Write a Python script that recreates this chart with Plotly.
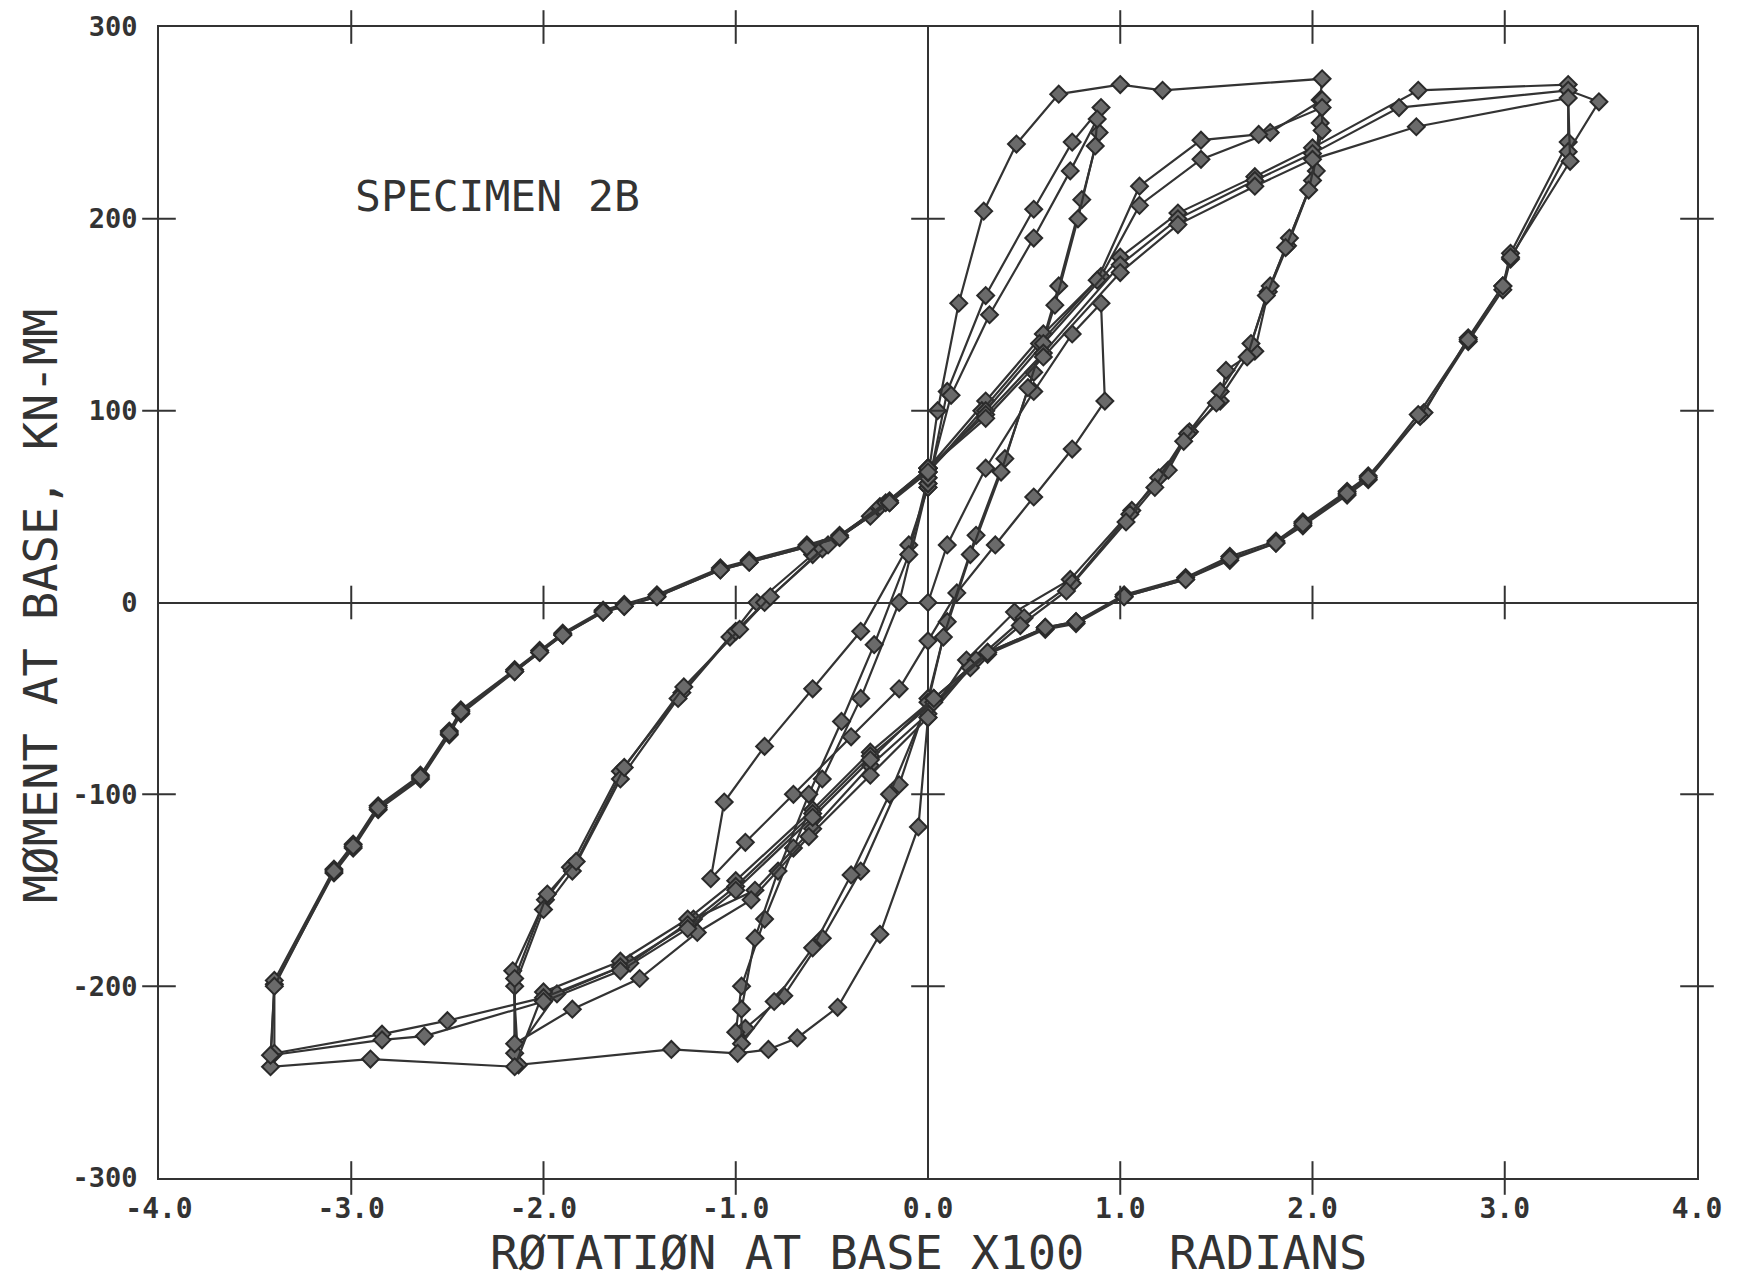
import plotly.graph_objects as go

# ---------------- data (rotation x100 rad, moment kN-mm) ----------------
tiny_rot = [0.0, 0.1, 0.3, 0.55, 0.75, 0.90, 0.92, 0.75, 0.55, 0.35, 0.15, 0.0,
            -0.15, -0.4, -0.7, -0.95, -1.13, -1.06, -0.85, -0.6, -0.35, -0.1, 0.0]
tiny_mom = [0, 30, 70, 110, 140, 156, 105, 80, 55, 30, 5, -20,
            -45, -70, -100, -125, -144, -104, -75, -45, -15, 30, 60]

small1_rot = [0.0, 0.1, 0.3, 0.55, 0.75, 0.90, 0.89, 0.80, 0.68, 0.55, 0.40, 0.25, 0.10, 0.0,
              -0.15, -0.35, -0.55, -0.75, -0.95, -1.0, -0.97, -0.85, -0.70, -0.55, -0.35, -0.15, 0.0]
small1_mom = [60, 110, 160, 205, 240, 258, 245, 210, 165, 120, 75, 35, -10, -50,
              -95, -140, -175, -205, -222, -224, -200, -165, -128, -92, -50, 0, 62]

small2_rot = [0.0, 0.12, 0.32, 0.55, 0.74, 0.88, 0.87, 0.78, 0.66, 0.52, 0.38, 0.22, 0.08, 0.0,
              -0.2, -0.4, -0.6, -0.8, -0.97, -0.97, -0.9, -0.78, -0.62, -0.45, -0.28, -0.1, 0.0]
small2_mom = [62, 108, 150, 190, 225, 252, 238, 200, 155, 112, 68, 25, -18, -52,
              -100, -142, -180, -208, -230, -212, -175, -140, -100, -62, -22, 25, 65]

med1_rot = [0.0, 0.05, 0.16, 0.29, 0.46, 0.68, 1.0, 1.22, 2.05, 2.04, 2.02, 1.87, 1.77, 1.70,
            1.55, 1.52, 1.36, 1.25, 1.06, 0.74, 0.45, 0.2, 0.0, -0.05, -0.25, -0.47, -0.68,
            -0.83, -0.99, -1.335, -2.13, -2.16, -1.99, -1.86, -1.6, -1.28, -1.03, -0.89,
            -0.6, -0.3, 0.0]
med1_mom = [65, 100, 156, 204, 239, 265, 270, 267, 273, 262, 225, 186, 162, 131,
            121, 105, 89, 69, 48, 12, -5, -30, -60, -117, -173, -211, -227,
            -233, -235, -233, -241, -192, -155, -138, -88, -47, -18, 0,
            25, 45, 70]

med2_rot = [0.0, 0.3, 0.6, 0.9, 1.1, 1.42, 1.78, 2.05, 2.04, 2.0, 1.88, 1.78, 1.68, 1.52,
            1.35, 1.2, 1.05, 0.75, 0.5, 0.25, 0.0, -0.3, -0.6, -0.9, -1.22, -1.55, -1.93,
            -2.15, -2.15, -2.0, -1.85, -1.6, -1.3, -1.0, -0.85, -0.55, -0.25, 0.0]
med2_mom = [70, 105, 140, 170, 207, 231, 245, 262, 250, 220, 190, 165, 135, 110,
            88, 65, 46, 10, -8, -30, -58, -85, -118, -150, -165, -188, -204,
            -235, -200, -160, -140, -92, -50, -15, 0, 28, 50, 68]

med3_rot = [0.0, 0.28, 0.58, 0.88, 1.1, 1.42, 1.72, 2.05, 2.05, 1.98, 1.86, 1.76, 1.66, 1.5,
            1.33, 1.18, 1.03, 0.72, 0.48, 0.22, 0.0, -0.3, -0.62, -0.92, -1.2, -1.5, -1.85,
            -2.15, -2.15, -1.98, -1.83, -1.58, -1.27, -0.98, -0.82, -0.52, -0.22, 0.0]
med3_mom = [68, 100, 135, 168, 217, 241, 244, 258, 246, 215, 185, 160, 128, 104,
            84, 60, 42, 6, -12, -34, -60, -90, -122, -155, -172, -196, -212,
            -230, -196, -152, -135, -86, -44, -14, 3, 30, 52, 70]

big1_rot = [0.0, 0.3, 0.6, 1.0, 1.3, 1.7, 2.0, 2.55, 3.33, 3.33, 3.03, 2.99, 2.81, 2.58,
            2.29, 2.18, 1.95, 1.81, 1.57, 1.34, 1.02, 0.77, 0.61, 0.31, 0.03, -0.3, -0.6,
            -1.0, -1.25, -1.6, -2.0, -2.15, -2.9, -3.42, -3.40, -3.09, -2.99, -2.86, -2.64,
            -2.49, -2.43, -2.15, -2.02, -1.9, -1.69, -1.58, -1.41, -1.08, -0.93, -0.63,
            -0.46, -0.2, 0.0]
big1_mom = [68, 100, 135, 180, 203, 222, 237, 267, 270, 240, 182, 165, 138, 99,
            66, 58, 42, 32, 24, 13, 4, -10, -13, -26, -50, -78, -108,
            -145, -165, -187, -203, -242, -238, -242, -199, -141, -128, -108, -92,
            -69, -58, -36, -26, -17, -5, -2, 3, 17, 21, 29,
            34, 52, 70]

big2_rot = [0.0, 0.3, 0.6, 1.0, 1.3, 1.7, 2.0, 2.45, 3.33, 3.49, 3.33, 3.03, 2.99, 2.81, 2.56,
            2.29, 2.18, 1.95, 1.81, 1.57, 1.34, 1.02, 0.77, 0.61, 0.31, 0.03, -0.3, -0.6,
            -1.0, -1.25, -1.6, -2.0, -2.5, -2.84, -3.4, -3.40, -3.09, -2.99, -2.86, -2.64,
            -2.49, -2.43, -2.15, -2.02, -1.9, -1.69, -1.58, -1.41, -1.08, -0.93, -0.63,
            -0.46, -0.2, 0.0]
big2_mom = [70, 98, 130, 176, 200, 220, 234, 258, 267, 261, 235, 179, 163, 136, 97,
            64, 56, 40, 31, 22, 12, 3, -11, -14, -27, -52, -80, -110,
            -148, -168, -190, -206, -218, -225, -235, -197, -139, -126, -106, -90,
            -67, -56, -35, -25, -16, -4, -1, 4, 18, 22, 30,
            35, 53, 70]

big3_rot = [0.0, 0.3, 0.6, 1.0, 1.3, 1.7, 2.0, 2.54, 3.33, 3.34, 3.03, 2.99, 2.81, 2.55,
            2.29, 2.18, 1.95, 1.81, 1.57, 1.34, 1.02, 0.77, 0.61, 0.31, 0.03, -0.3, -0.6,
            -1.0, -1.25, -1.6, -2.0, -2.62, -2.84, -3.42, -3.40, -3.09, -2.99, -2.86, -2.64,
            -2.49, -2.43, -2.15, -2.02, -1.9, -1.69, -1.58, -1.41, -1.08, -0.93, -0.63,
            -0.46, -0.2, 0.0]
big3_mom = [70, 96, 128, 172, 197, 217, 231, 248, 263, 230, 180, 165, 137, 98,
            65, 57, 41, 31, 23, 12, 3, -10, -13, -26, -50, -82, -112,
            -150, -170, -192, -208, -226, -228, -236, -200, -140, -127, -107, -91,
            -68, -57, -36, -26, -17, -5, -2, 3, 17, 21, 29,
            34, 52, 68]

cycles = [
    (tiny_rot, tiny_mom), (small1_rot, small1_mom), (small2_rot, small2_mom),
    (med1_rot, med1_mom), (med2_rot, med2_mom), (med3_rot, med3_mom),
    (big1_rot, big1_mom), (big2_rot, big2_mom), (big3_rot, big3_mom),
]

x_ticks = [-4, -3, -2, -1, 0, 1, 2, 3, 4]
x_tick_text = ["-4.0", "-3.0", "-2.0", "-1.0", "0.0", "1.0", "2.0", "3.0", "4.0"]
y_ticks = [-300, -200, -100, 0, 100, 200, 300]
y_tick_text = ["-300", "-200", "-100", "0", "100", "200", "300"]

INK = "#333333"
MONO = "DejaVu Sans Mono"

fig = go.Figure()
for rx, my in cycles:
    fig.add_trace(go.Scatter(
        x=rx, y=my, mode="lines+markers",
        line=dict(color=INK, width=2.2),
        marker=dict(symbol="diamond", size=13, color="#6a6a6a",
                    line=dict(color="#2a2a2a", width=2)),
        showlegend=False, hoverinfo="skip"))

# crossing tick marks on frame and zero lines
inner_x = [v for v in x_ticks if v not in (-4, 0, 4)]
inner_y = [v for v in y_ticks if v not in (-300, 0, 300)]
for yline in (-300, 0, 300):
    fig.add_trace(go.Scatter(
        x=inner_x, y=[yline] * len(inner_x), mode="markers", cliponaxis=False,
        marker=dict(symbol="line-ns-open", size=24, color=INK,
                    line=dict(color=INK, width=2)),
        showlegend=False, hoverinfo="skip"))
for xline in (-4, 0, 4):
    fig.add_trace(go.Scatter(
        x=[xline] * len(inner_y), y=inner_y, mode="markers", cliponaxis=False,
        marker=dict(symbol="line-ew-open", size=24, color=INK,
                    line=dict(color=INK, width=2)),
        showlegend=False, hoverinfo="skip"))

fig.update_layout(
    width=1743, height=1279,
    margin=dict(l=151, r=54, t=19, b=109, autoexpand=False),
    paper_bgcolor="white", plot_bgcolor="white",
    font=dict(family=MONO, color=INK),
    xaxis=dict(range=[-4, 4], tickvals=x_ticks, ticktext=x_tick_text,
               showgrid=False, zeroline=True, zerolinecolor=INK, zerolinewidth=2,
               showline=True, linecolor=INK, linewidth=2, mirror=True, automargin=False,
               ticks="", tickfont=dict(size=28, family=MONO, color=INK, weight="bold"),
               ticklabelstandoff=4, ticklabeloverflow="allow"),
    yaxis=dict(range=[-300, 300], tickvals=y_ticks, ticktext=y_tick_text,
               showgrid=False, zeroline=True, zerolinecolor=INK, zerolinewidth=2,
               showline=True, linecolor=INK, linewidth=2, mirror=True, automargin=False,
               ticks="", tickfont=dict(size=27, family=MONO, color=INK, weight="bold"),
               ticklabelstandoff=14, ticklabeloverflow="allow"),
    annotations=[
        dict(text="SPECIMEN 2B", x=-2.24, y=212, xref="x", yref="y",
             showarrow=False, font=dict(size=43, family=MONO, color=INK)),
        dict(text="RØTATIØN AT BASE X100   RADIANS", x=0.5, y=0, xref="paper", yref="paper",
             yanchor="middle", yshift=-74, showarrow=False,
             font=dict(size=47, family=MONO, color=INK)),
        dict(text="MØMENT AT BASE, KN-MM", x=0, y=0.497, xref="paper", yref="paper",
             xanchor="center", xshift=-118, textangle=-90, showarrow=False,
             font=dict(size=47, family=MONO, color=INK)),
    ],
)

fig.write_html("out.html")
